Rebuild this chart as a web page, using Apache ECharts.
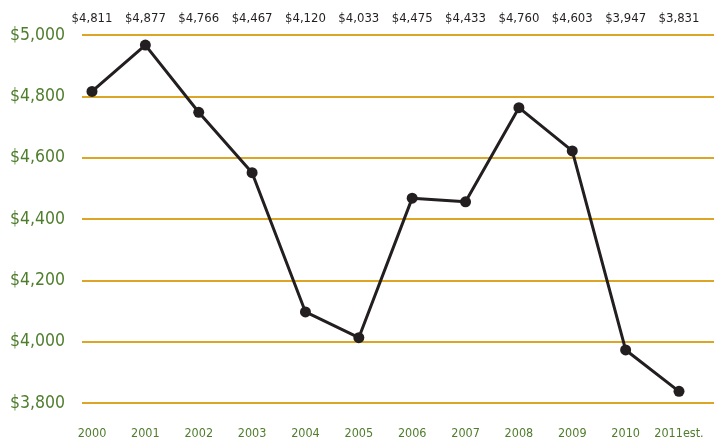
<!DOCTYPE html>
<html lang="en">
<head>
    <meta charset="UTF-8">
    <title>chart</title>
    <script src="https://cdn.jsdelivr.net/npm/echarts@6/dist/echarts.min.js"></script>
    <style>
        body { margin: 0; background: #fff; }
        #main { width: 718px; height: 440px; }
    </style>
</head>
<body>
    <div id="main"></div>
</body>
<script>
    // data
    var years = ['2000', '2001', '2002', '2003', '2004', '2005', '2006', '2007', '2008', '2009', '2010', '2011est.'];
    var topLabels = ['$4,811', '$4,877', '$4,766', '$4,467', '$4,120', '$4,033', '$4,475', '$4,433', '$4,760', '$4,603', '$3,947', '$3,831'];
    var values = [4816, 4967, 4748, 4551, 4097, 4013, 4468, 4456, 4763, 4622, 3973, 3838];
    var yMin = 3800, yMax = 5000, yStep = 200;

    var font = "'DejaVu Sans Condensed', 'Liberation Sans Narrow', sans-serif";
    var green = '#4e7d2c';
    var gold = '#dca624';
    var ink = '#231f20';

    var myChart = echarts.init(document.getElementById('main'));

    var option = {
        animation: false,
        grid: [
            // full width grid only for the horizontal lines + y labels
            { left: 82, right: 4, top: 35, bottom: 37 },
            // inner grid for the line
            { left: 92, right: 39, top: 35, bottom: 37 }
        ],
        xAxis: [
            { gridIndex: 0, type: 'value', min: 0, max: 1, show: false },
            {
                gridIndex: 1, type: 'category', position: 'bottom', boundaryGap: false,
                data: years,
                axisLine: { show: false }, axisTick: { show: false },
                axisLabel: { interval: 0, margin: 24, color: green, fontSize: 12.5, fontFamily: font }
            },
            {
                gridIndex: 1, type: 'category', position: 'top', boundaryGap: false,
                data: topLabels,
                axisLine: { show: false }, axisTick: { show: false },
                axisLabel: { interval: 0, margin: 10, color: ink, fontSize: 13, fontFamily: font }
            }
        ],
        yAxis: [
            {
                gridIndex: 0, type: 'value', min: yMin, max: yMax, interval: yStep,
                axisLine: { show: false }, axisTick: { show: false },
                axisLabel: {
                    margin: 17, color: green, fontSize: 17.5, fontFamily: font,
                    formatter: function (v) { return '$' + v.toLocaleString('en-US'); }
                },
                splitLine: { lineStyle: { color: gold, width: 2 } }
            },
            { gridIndex: 1, type: 'value', min: yMin, max: yMax, interval: yStep, show: false }
        ],
        series: [{
            type: 'line',
            xAxisIndex: 1,
            yAxisIndex: 1,
            data: values,
            symbol: 'circle',
            symbolSize: 11,
            lineStyle: { color: ink, width: 3 },
            itemStyle: { color: ink },
            z: 5
        }]
    };

    myChart.setOption(option);
</script>
</html>
